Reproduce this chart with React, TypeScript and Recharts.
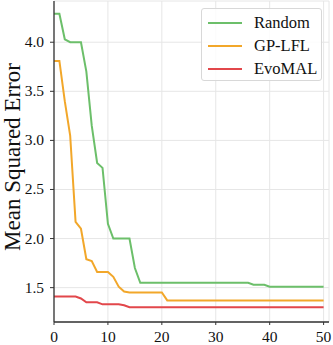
import { CartesianGrid, Legend, Line, LineChart, XAxis, YAxis } from 'recharts';

const iterations = Array.from({ length: 51 }, (_, i) => i);

const randomMse = [
  4.29, 4.29, 4.03, 4.0, 4.0, 4.0, 3.7, 3.15, 2.77, 2.72,
  2.15, 2.0, 2.0, 2.0, 2.0, 1.7, 1.55, 1.55, 1.55, 1.55,
  1.55, 1.55, 1.55, 1.55, 1.55, 1.55, 1.55, 1.55, 1.55, 1.55,
  1.55, 1.55, 1.55, 1.55, 1.55, 1.55, 1.55, 1.53, 1.53, 1.53,
  1.51, 1.51, 1.51, 1.51, 1.51, 1.51, 1.51, 1.51, 1.51, 1.51, 1.51,
];

const gpLflMse = [
  3.81, 3.81, 3.4, 3.05, 2.17, 2.1, 1.79, 1.77, 1.66, 1.66,
  1.66, 1.61, 1.51, 1.46, 1.45, 1.45, 1.45, 1.45, 1.45, 1.45,
  1.45, 1.37, 1.37, 1.37, 1.37, 1.37, 1.37, 1.37, 1.37, 1.37,
  1.37, 1.37, 1.37, 1.37, 1.37, 1.37, 1.37, 1.37, 1.37, 1.37,
  1.37, 1.37, 1.37, 1.37, 1.37, 1.37, 1.37, 1.37, 1.37, 1.37, 1.37,
];

const evoMalMse = [
  1.41, 1.41, 1.41, 1.41, 1.41, 1.39, 1.35, 1.35, 1.35, 1.33,
  1.33, 1.33, 1.33, 1.32, 1.3, 1.3, 1.3, 1.3, 1.3, 1.3,
  1.3, 1.3, 1.3, 1.3, 1.3, 1.3, 1.3, 1.3, 1.3, 1.3,
  1.3, 1.3, 1.3, 1.3, 1.3, 1.3, 1.3, 1.3, 1.3, 1.3,
  1.3, 1.3, 1.3, 1.3, 1.3, 1.3, 1.3, 1.3, 1.3, 1.3, 1.3,
];

const xTicks = [0, 10, 20, 30, 40, 50];
const yTicks = [1.5, 2.0, 2.5, 3.0, 3.5, 4.0];

const series = [
  { key: 'random', label: 'Random', color: '#6cbf6a' },
  { key: 'gplfl', label: 'GP-LFL', color: '#f2a72a' },
  { key: 'evomal', label: 'EvoMAL', color: '#e2474b' },
];

const data = iterations.map((it, i) => ({
  it,
  random: randomMse[i],
  gplfl: gpLflMse[i],
  evomal: evoMalMse[i],
}));

const font = '"Liberation Serif", "Times New Roman", serif';
const spine = '#333';

type TickProps = {
  x?: number;
  y?: number;
  payload?: { value: number };
};

function renderXTick({ x = 0, y = 0, payload }: TickProps) {
  return (
    <text x={x} y={y + 15} textAnchor="middle" fontSize={15.5} fontFamily={font} fill="#111">
      {payload?.value}
    </text>
  );
}

function renderYTick({ x = 0, y = 0, payload }: TickProps) {
  return (
    <text x={x - 1} y={y + 5} textAnchor="end" fontSize={15.5} fontFamily={font} fill="#111">
      {Number(payload?.value).toFixed(1)}
    </text>
  );
}

function YLabel() {
  return (
    <text
      x={12}
      y={157}
      transform="rotate(-90 12 157)"
      textAnchor="middle"
      dominantBaseline="central"
      fontSize={23}
      fontFamily={font}
      fill="#111"
    >
      Mean Squared Error
    </text>
  );
}

function LegendBox() {
  return (
    <div
      style={{
        width: 121,
        height: 73,
        boxSizing: 'border-box',
        border: '1px solid #d8d8d8',
        borderRadius: 3,
        background: 'rgba(255,255,255,0.85)',
        fontFamily: font,
        fontSize: 16.5,
        color: '#111',
        paddingTop: 2,
      }}
    >
      {series.map((s) => (
        <div key={s.key} style={{ display: 'flex', alignItems: 'center', height: 23 }}>
          <span
            style={{
              display: 'inline-block',
              width: 34,
              height: 2,
              marginLeft: 6,
              marginRight: 12,
              backgroundColor: s.color,
            }}
          />
          <span>{s.label}</span>
        </div>
      ))}
    </div>
  );
}

export default function App() {
  return (
    <div
      style={{
        position: 'fixed',
        left: 0,
        top: 0,
        width: 333,
        height: 345,
        background: '#fff',
        fontFamily: font,
      }}
    >
      <LineChart width={333} height={345} data={data} margin={{ top: 1, right: 4, bottom: 0, left: 0 }}>
        <CartesianGrid stroke="#e6e6e6" strokeWidth={1} />
        <XAxis
          dataKey="it"
          type="number"
          domain={[0, 51]}
          ticks={xTicks}
          allowDataOverflow
          height={23}
          tickSize={3}
          tickMargin={2}
          axisLine={{ stroke: spine, strokeWidth: 1.3 }}
          tickLine={{ stroke: spine }}
          tick={renderXTick}
        />
        <XAxis
          xAxisId="top"
          orientation="top"
          type="number"
          domain={[0, 51]}
          height={0}
          tick={false}
          tickLine={false}
          axisLine={{ stroke: spine, strokeWidth: 1.3 }}
        />
        <YAxis
          type="number"
          domain={[1.15, 4.42]}
          ticks={yTicks}
          allowDataOverflow
          width={54}
          tickSize={4}
          tickMargin={5}
          axisLine={{ stroke: spine, strokeWidth: 1.3 }}
          tickLine={{ stroke: spine }}
          tick={renderYTick}
          label={<YLabel />}
        />
        <YAxis
          yAxisId="right"
          orientation="right"
          width={0}
          tick={false}
          tickLine={false}
          axisLine={{ stroke: spine, strokeWidth: 1.3 }}
        />
        <Legend
          layout="vertical"
          align="center"
          verticalAlign="middle"
          wrapperStyle={{ left: 201, top: 8, width: 121, height: 73 }}
          content={() => <LegendBox />}
        />
        {series.map((s) => (
          <Line
            key={s.key}
            dataKey={s.key}
            name={s.label}
            type="linear"
            stroke={s.color}
            strokeWidth={2}
            dot={false}
            isAnimationActive={false}
          />
        ))}
      </LineChart>
    </div>
  );
}
